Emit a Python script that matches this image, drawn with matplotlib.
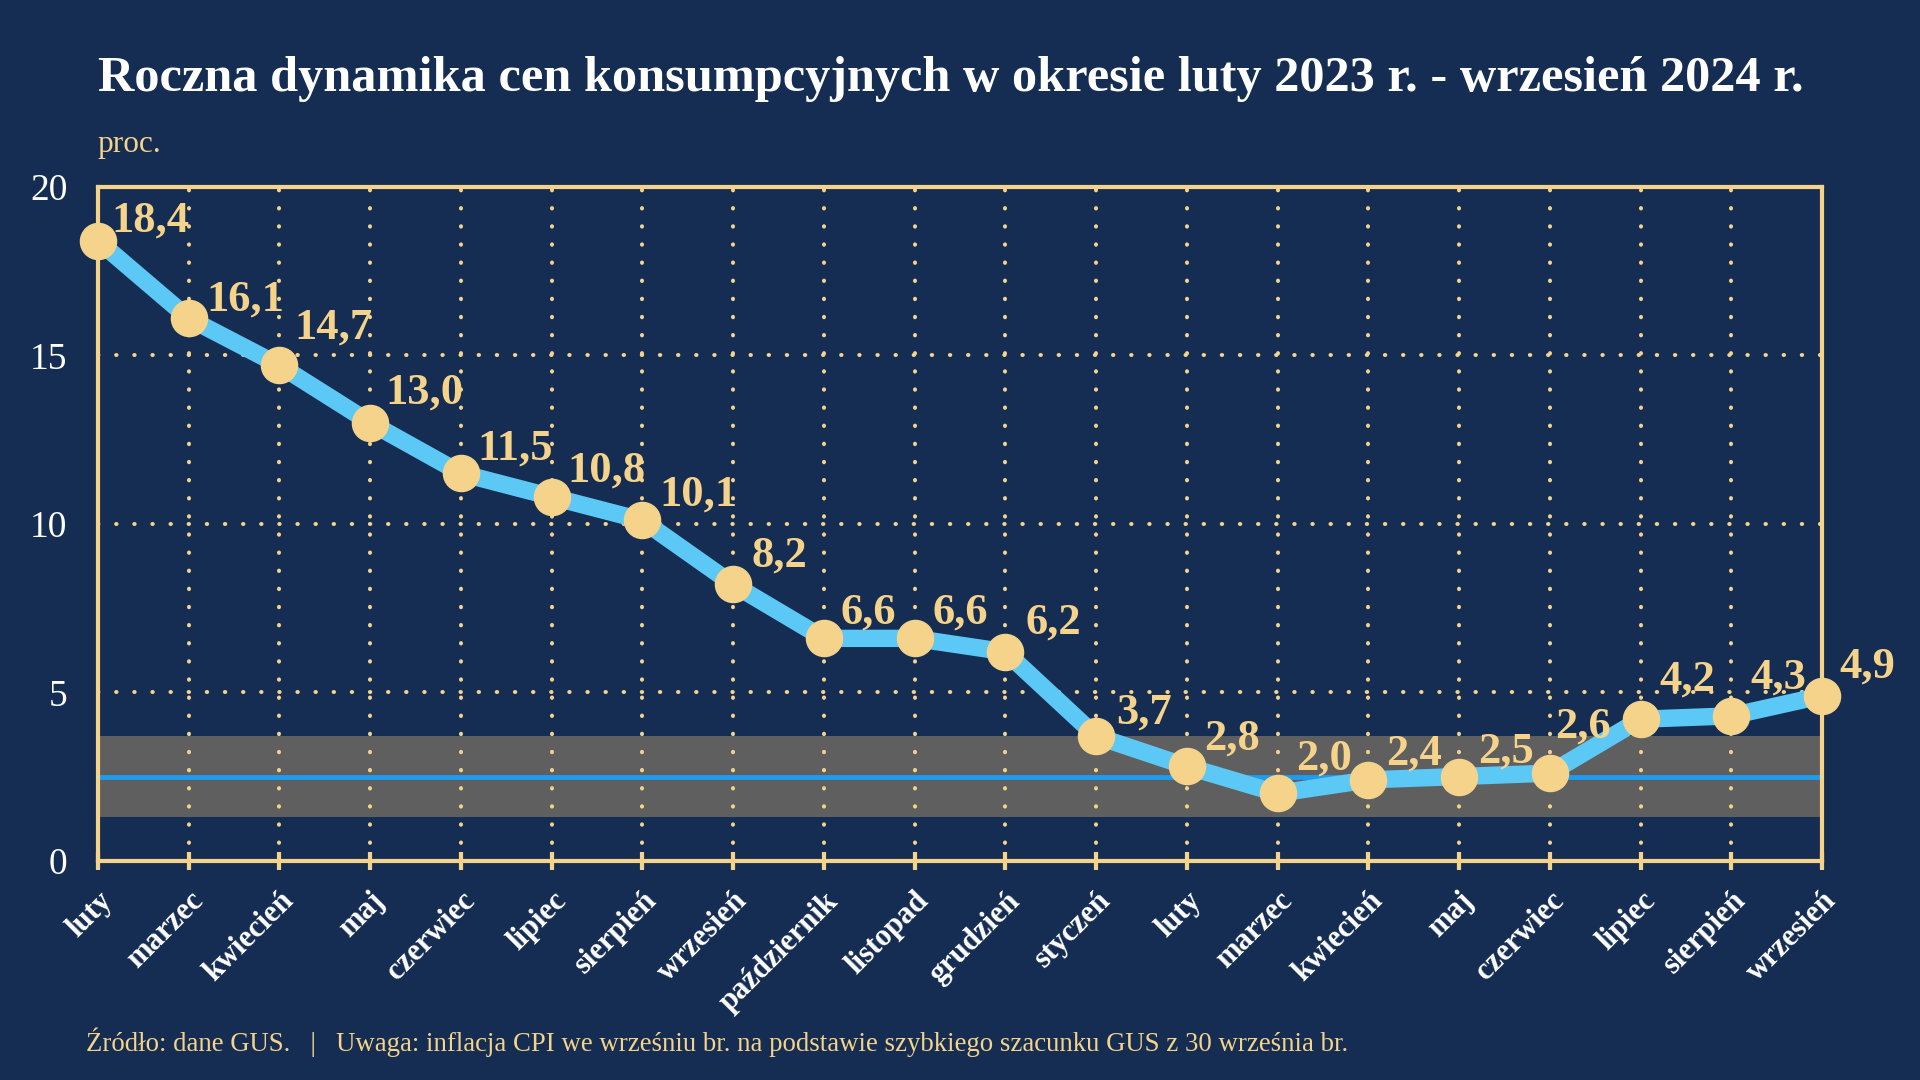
import matplotlib
matplotlib.use("Agg")
from matplotlib import pyplot as plt

months = ["luty", "marzec", "kwiecień", "maj", "czerwiec", "lipiec", "sierpień",
          "wrzesień", "październik", "listopad", "grudzień", "styczeń", "luty",
          "marzec", "kwiecień", "maj", "czerwiec", "lipiec", "sierpień", "wrzesień"]
cpi = [18.4, 16.1, 14.7, 13.0, 11.5, 10.8, 10.1, 8.2, 6.6, 6.6, 6.2,
       3.7, 2.8, 2.0, 2.4, 2.5, 2.6, 4.2, 4.3, 4.9]
target = 2.5
band_low, band_high = 1.3, 3.7
y_ticks = [0, 5, 10, 15, 20]

# label placement (pixels right / up from the point)
label_dx = [13, 18, 15, 15, 16, 16, 17, 18, 17, 18, 20, 20, 17, 19, 18, 19, 5, 19, 19, 17]
label_dy = [9, 8, 27, 19, 14, 15, 15, 18, 15, 15, 18, 13, 17, 24, 15, 14, 36, 29, 27, 18]

BG = "#152d52"
GOLD = "#f5d38b"
BLUE = "#5bc8f5"
plt.rcParams["font.family"] = ["Liberation Serif", "DejaVu Serif"]

fig = plt.figure(figsize=(19.2, 10.8), dpi=100, facecolor=BG)
ax = fig.add_axes([0.051, 0.203, 0.898, 0.624], facecolor=BG)

x = list(range(len(cpi)))
ax.set_xlim(0, len(cpi) - 1)
ax.set_ylim(0, 20)

# target band + line
ax.axhspan(band_low, band_high, color="#5f5f5f", zorder=1, lw=0)
ax.axhline(target, color="#1e9cf0", lw=3.5, zorder=2)

# dotted grid
dots = (0, (0.1, 4.4))
for xi in x[1:-1]:
    ax.axvline(xi, color=GOLD, lw=2.9, linestyle=dots, dash_capstyle="round", zorder=3)
for yv in y_ticks[1:-1]:
    ax.axhline(yv, color=GOLD, lw=2.9, linestyle=dots, dash_capstyle="round", zorder=3)

ax.plot(x, cpi, color=BLUE, lw=12.5, zorder=4, solid_joinstyle="miter")
ax.plot(x, cpi, "o", color=GOLD, ms=26, zorder=5, clip_on=False)

for xi, v, dx, dy in zip(x, cpi, label_dx, label_dy):
    ax.annotate(f"{v:.1f}".replace(".", ","), (xi, v), xytext=(dx, dy),
                textcoords="offset pixels", ha="left", va="baseline",
                color=GOLD, fontsize=32, fontweight="bold", zorder=6,
                annotation_clip=False)

for s in ax.spines.values():
    s.set_color(GOLD)
    s.set_linewidth(3)

ax.set_yticks(y_ticks)
ax.set_yticklabels([str(v) for v in y_ticks])
ax.tick_params(axis="y", length=0, pad=22, labelsize=27, labelcolor="white")
ax.set_xticks(x)
ax.set_xticklabels(months, rotation=45, ha="right", rotation_mode="anchor",
                   fontsize=22, fontweight="bold", color="white")
ax.tick_params(axis="x", direction="inout", length=13, width=3, color=GOLD, pad=12)

fig.text(0.051, 0.927, "Roczna dynamika cen konsumpcyjnych w okresie luty 2023 r. - wrzesień 2024 r.",
         color="white", fontsize=36.3, fontweight="bold", va="center", ha="left")
fig.text(0.051, 0.866, "proc.", color=GOLD, fontsize=22.5, va="center", ha="left")
fig.text(0.045, 0.035,
         "Źródło: dane GUS.   |   Uwaga: inflacja CPI we wrześniu br. na podstawie szybkiego szacunku GUS z 30 września br.",
         color=GOLD, fontsize=19.3, va="center", ha="left")

fig.savefig("out.png", dpi=100, facecolor=BG)
